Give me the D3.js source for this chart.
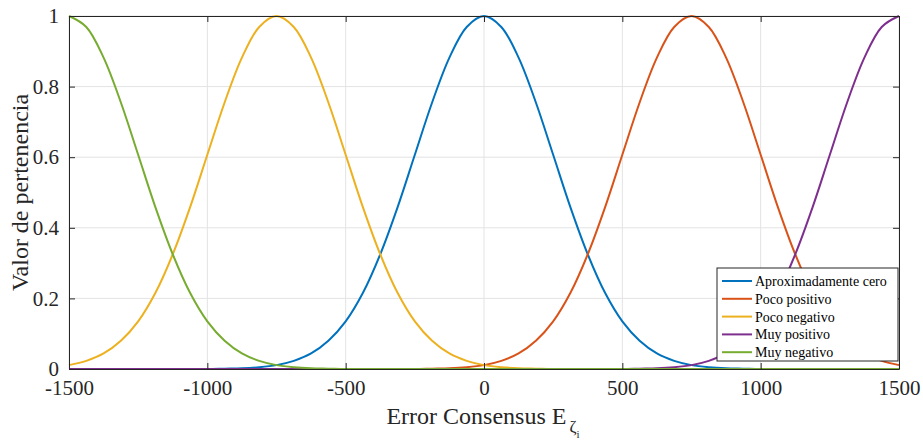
<!DOCTYPE html>
<html>
<head>
<meta charset="utf-8">
<script src="https://cdn.jsdelivr.net/npm/d3@7"></script>
<style>
  body { margin: 0; background: #fff; }
  svg { font-family: "Liberation Serif", "DejaVu Serif", serif; }
  .grid line { stroke: #e3e3e3; stroke-width: 1; }
  .axis path, .axis line { stroke: #262626; }
</style>
</head>
<body>
<div id="chart"></div>
<script>
// sample positions (every 62.5 units)
const errorX = d3.range(49).map(i => -1500 + i * 62.5);

const aproxCero = [0, 0, 0, 0, 0, 0, 0, 0, 0,
  0.001, 0.002, 0.005, 0.011, 0.023, 0.044, 0.080, 0.135, 0.216, 0.325, 0.458, 0.607, 0.755, 0.882, 0.969,
  1,
  0.969, 0.882, 0.755, 0.607, 0.458, 0.325, 0.216, 0.135, 0.080, 0.044, 0.023, 0.011, 0.005, 0.002, 0.001,
  0, 0, 0, 0, 0, 0, 0, 0, 0];
const pocoPositivo = [0, 0, 0, 0, 0, 0, 0, 0, 0, 0, 0, 0, 0, 0, 0, 0, 0, 0, 0, 0, 0,
  0.001, 0.002, 0.005, 0.011, 0.023, 0.044, 0.080, 0.135, 0.216, 0.325, 0.458, 0.607, 0.755, 0.882, 0.969,
  1,
  0.969, 0.882, 0.755, 0.607, 0.458, 0.325, 0.216, 0.135, 0.080, 0.044, 0.023, 0.011];
const pocoNegativo = [0.011, 0.023, 0.044, 0.080, 0.135, 0.216, 0.325, 0.458, 0.607, 0.755, 0.882, 0.969,
  1,
  0.969, 0.882, 0.755, 0.607, 0.458, 0.325, 0.216, 0.135, 0.080, 0.044, 0.023, 0.011, 0.005, 0.002, 0.001,
  0, 0, 0, 0, 0, 0, 0, 0, 0, 0, 0, 0, 0, 0, 0, 0, 0, 0, 0, 0, 0];
const muyPositivo = [0, 0, 0, 0, 0, 0, 0, 0, 0, 0, 0, 0, 0, 0, 0, 0, 0, 0, 0, 0, 0, 0, 0, 0, 0, 0, 0, 0, 0, 0, 0, 0, 0,
  0.001, 0.002, 0.005, 0.011, 0.023, 0.044, 0.080, 0.135, 0.216, 0.325, 0.458, 0.607, 0.755, 0.882, 0.969,
  1];
const muyNegativo = [1,
  0.969, 0.882, 0.755, 0.607, 0.458, 0.325, 0.216, 0.135, 0.080, 0.044, 0.023, 0.011, 0.005, 0.002, 0.001,
  0, 0, 0, 0, 0, 0, 0, 0, 0, 0, 0, 0, 0, 0, 0, 0, 0, 0, 0, 0, 0, 0, 0, 0, 0, 0, 0, 0, 0, 0, 0, 0, 0];

const seriesNames = ["Aproximadamente cero", "Poco positivo", "Poco negativo", "Muy positivo", "Muy negativo"];
const seriesValues = [aproxCero, pocoPositivo, pocoNegativo, muyPositivo, muyNegativo];
const seriesColors = ["#0072BD", "#D95319", "#EDB120", "#7E2F8E", "#77AC30"];

const xTicks = [-1500, -1000, -500, 0, 500, 1000, 1500];
const yTicks = [0, 0.2, 0.4, 0.6, 0.8, 1];

const W = 923, H = 446;
const margin = { top: 16, right: 24, bottom: 77, left: 69 };
const width = W - margin.left - margin.right;
const height = H - margin.top - margin.bottom;
const serif = "Liberation Serif";

const svg = d3.select("#chart").append("svg")
  .attr("width", W)
  .attr("height", H);

const x = d3.scaleLinear().domain([-1500, 1500]).range([0, width]);
const y = d3.scaleLinear().domain([0, 1]).range([height, 0]);

const g = svg.append("g")
  .attr("transform", `translate(${margin.left},${margin.top})`);

// grid
g.append("g").attr("class", "grid")
  .selectAll("line").data(xTicks).enter().append("line")
  .attr("x1", d => x(d)).attr("x2", d => x(d))
  .attr("y1", 0).attr("y2", height);
g.append("g").attr("class", "grid")
  .selectAll("line").data(yTicks).enter().append("line")
  .attr("x1", 0).attr("x2", width)
  .attr("y1", d => y(d)).attr("y2", d => y(d));

// lines
const line = d3.line()
  .x((d, i) => x(errorX[i]))
  .y(d => y(d))
  .curve(d3.curveCatmullRom.alpha(0.5));

seriesValues.forEach((vals, k) => {
  g.append("path")
    .datum(vals)
    .attr("fill", "none")
    .attr("stroke", seriesColors[k])
    .attr("stroke-width", 2)
    .attr("d", line);
});

// axes (ticks inside, box around)
g.append("g").attr("class", "axis")
  .attr("transform", `translate(0,${height})`)
  .call(d3.axisBottom(x).tickValues(xTicks).tickSizeInner(-6).tickSizeOuter(0).tickPadding(11)
    .tickFormat(d => d < 0 ? "-" + Math.abs(d) : d));

g.append("g").attr("class", "axis")
  .call(d3.axisLeft(y).tickValues(yTicks).tickSizeInner(-6).tickSizeOuter(0).tickPadding(10)
    .tickFormat(d => d === 0 || d === 1 ? d : d.toFixed(1)));

g.append("g").attr("class", "axis")
  .attr("transform", `translate(${width},0)`)
  .call(d3.axisRight(y).tickValues(yTicks).tickSizeInner(-6).tickSizeOuter(0).tickFormat(""));
g.append("g").attr("class", "axis")
  .call(d3.axisTop(x).tickValues(xTicks).tickSizeInner(-6).tickSizeOuter(0).tickFormat(""));

g.selectAll(".axis")
  .attr("font-family", serif)
  .attr("font-size", 21);
g.selectAll(".axis text")
  .attr("font-family", serif)
  .attr("fill", "#262626");

// axis labels
const xl = svg.append("text")
  .attr("x", margin.left + width / 2 - 1)
  .attr("y", 424)
  .attr("text-anchor", "middle")
  .attr("font-family", serif)
  .attr("font-size", 24)
  .attr("fill", "#262626");
xl.append("tspan").text("Error Consensus E");
xl.append("tspan").attr("font-size", 17).attr("dy", 8).attr("dx", 3).text("ζ");
xl.append("tspan").attr("font-size", 11).attr("dy", 6).text("i");

svg.append("text")
  .attr("transform", `translate(28,${margin.top + height / 2}) rotate(-90)`)
  .attr("text-anchor", "middle")
  .attr("font-family", serif)
  .attr("font-size", 24)
  .attr("fill", "#262626")
  .text("Valor de pertenencia");

// legend
const lg = svg.append("g").attr("transform", "translate(717,268)");
lg.append("rect")
  .attr("width", 181).attr("height", 93)
  .attr("fill", "#fff").attr("stroke", "#262626").attr("stroke-width", 1);
seriesNames.forEach((name, k) => {
  const cy = 13 + k * 17.8;
  lg.append("line")
    .attr("x1", 5).attr("x2", 35).attr("y1", cy).attr("y2", cy)
    .attr("stroke", seriesColors[k]).attr("stroke-width", 2);
  lg.append("text")
    .attr("x", 38).attr("y", cy + 5)
    .attr("font-family", serif)
    .attr("font-size", 14)
    .attr("fill", "#000")
    .text(name);
});
</script>
</body>
</html>
